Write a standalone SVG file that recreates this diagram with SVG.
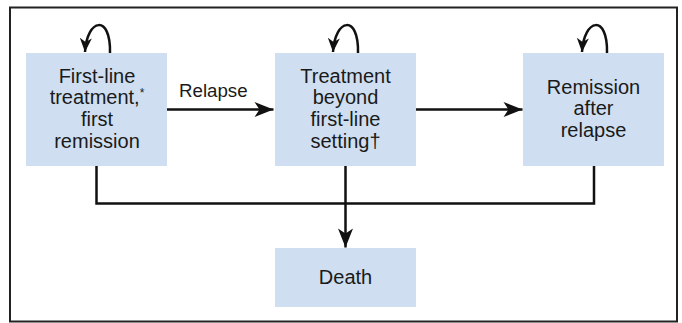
<svg xmlns="http://www.w3.org/2000/svg" width="682" height="323" viewBox="0 0 682 323">
  <defs>
    <style>
      .box { fill: #cfdff1; }
      .lbl { font-family: "Liberation Sans", Arial, sans-serif; font-size: 20px; fill: #1a1a1a; text-anchor: middle; }
      .rel { font-family: "Liberation Sans", Arial, sans-serif; font-size: 18.7px; fill: #1a1a1a; }
      .sup { font-size: 12px; }
      .edge { fill: none; stroke: #111; stroke-width: 2.5; }
      .loop { fill: none; stroke: #111; stroke-width: 2.5; }
    </style>
    <marker id="ah" markerUnits="userSpaceOnUse" viewBox="-20 -10 22 20" refX="0" refY="0" markerWidth="22" markerHeight="20" orient="auto">
      <path d="M0,0 L-19,-7.5 L-14,0 L-19,7.5 Z" fill="#111"/>
    </marker>
    <marker id="ahs" markerUnits="userSpaceOnUse" viewBox="-16 -8 18 16" refX="0" refY="0" markerWidth="18" markerHeight="16" orient="auto">
      <path d="M0,0 L-14,-6 L-10,0 L-14,6 Z" fill="#111"/>
    </marker>
  </defs>

  <rect x="10" y="7.5" width="667" height="314" fill="#fff" stroke="#222" stroke-width="2"/>

  <g id="connectors">
    <path class="edge" d="M167,109.5 L273.5,109.5" marker-end="url(#ah)"/>
    <path class="edge" d="M416,109.5 L522.5,109.5" marker-end="url(#ah)"/>
    <path class="edge" d="M96.5,166 L96.5,203.5 L594,203.5 L594,166"/>
    <path class="edge" d="M345.5,166 L345.5,247.5" marker-end="url(#ah)"/>
    <path class="loop" d="M110,53 C111,14 87,18 85,52" marker-end="url(#ahs)"/>
    <path class="loop" d="M358,53 C359,14 335,18 333,52" marker-end="url(#ahs)"/>
    <path class="loop" d="M607,53 C608,14 584,18 582,52" marker-end="url(#ahs)"/>
  </g>

  <g id="node-first-line">
    <rect class="box" x="26" y="53" width="141" height="113"/>
    <text class="lbl" x="97" y="82.7">First-line</text>
    <text class="lbl" x="97" y="104.3">treatment,<tspan class="sup" dy="-7">*</tspan></text>
    <text class="lbl" x="97" y="126">first</text>
    <text class="lbl" x="97" y="148.3">remission</text>
  </g>

  <g id="node-beyond">
    <rect class="box" x="275" y="53" width="141" height="113"/>
    <text class="lbl" x="345.5" y="82.7">Treatment</text>
    <text class="lbl" x="345.5" y="104.3">beyond</text>
    <text class="lbl" x="345.5" y="126">first-line</text>
    <text class="lbl" x="345.5" y="148.3">setting†</text>
  </g>

  <g id="node-remission-after">
    <rect class="box" x="523" y="53" width="141" height="113"/>
    <text class="lbl" x="593.5" y="93.5">Remission</text>
    <text class="lbl" x="593.5" y="115.3">after</text>
    <text class="lbl" x="593.5" y="137.1">relapse</text>
  </g>

  <g id="node-death">
    <rect class="box" x="275" y="248" width="141" height="59"/>
    <text class="lbl" x="345.5" y="283.5">Death</text>
  </g>

  <g id="edge-label">
    <text class="rel" x="179" y="97">Relapse</text>
  </g>
</svg>
